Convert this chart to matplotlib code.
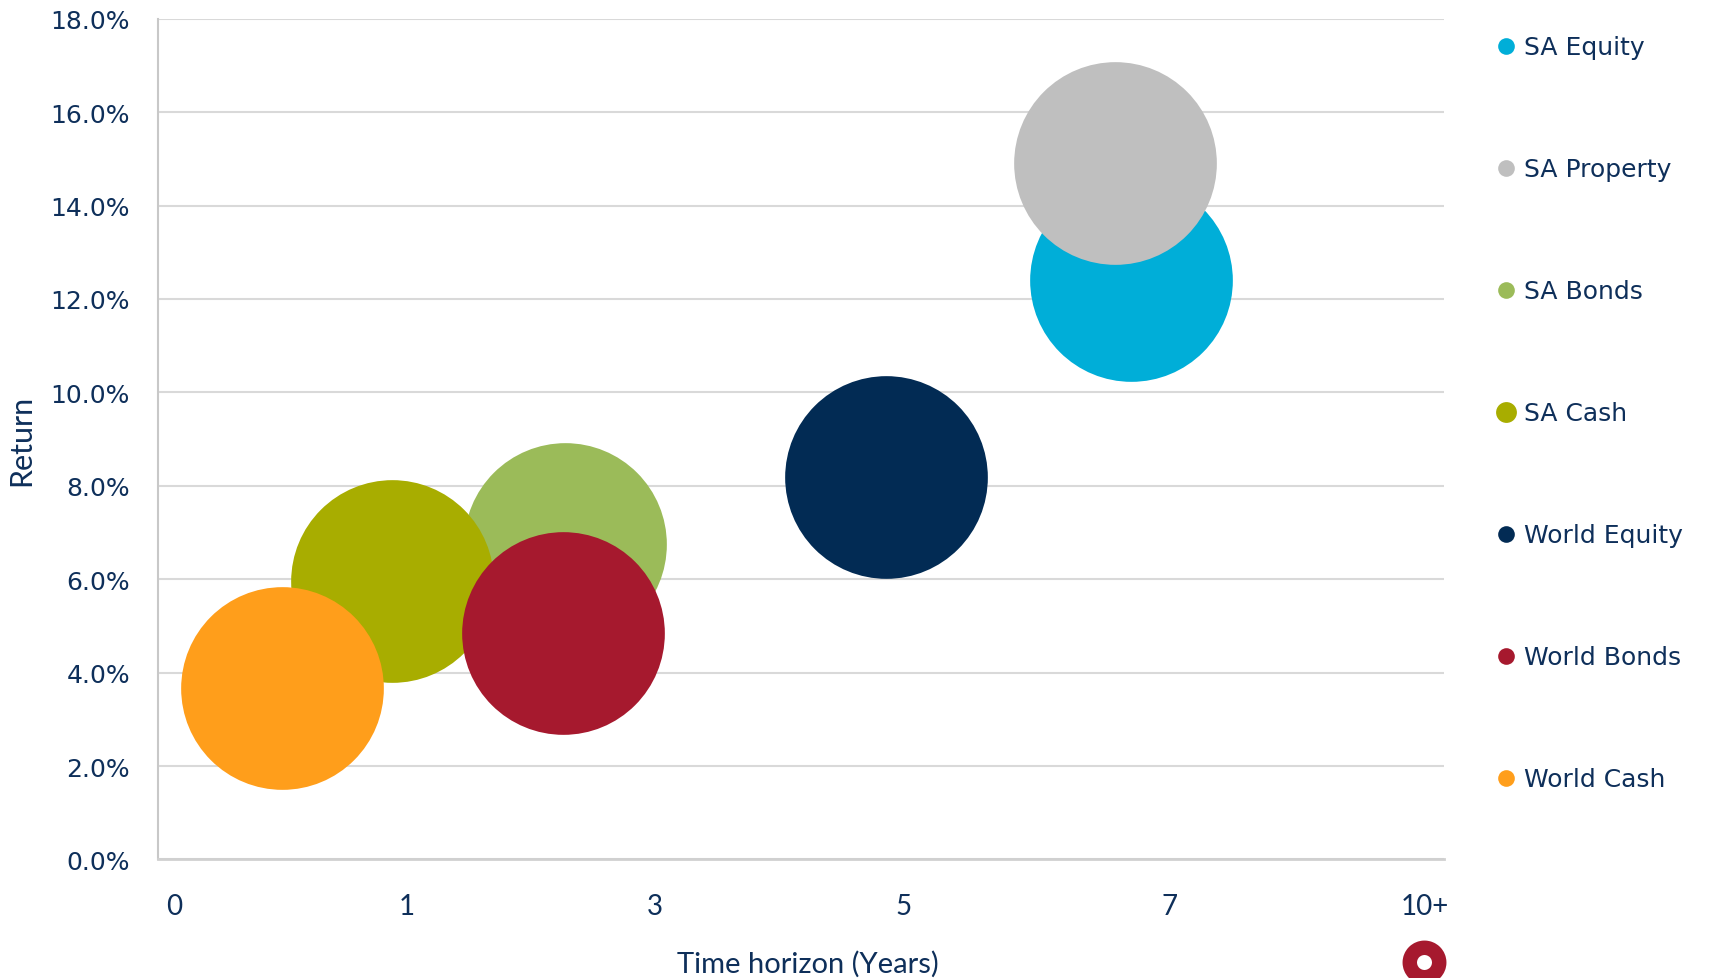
import matplotlib
matplotlib.use("Agg")
import matplotlib.pyplot as plt
from matplotlib.lines import Line2D
from matplotlib.ticker import PercentFormatter

# 资产类别
assets = ["SA Equity", "SA Property", "SA Bonds", "SA Cash",
          "World Equity", "World Bonds", "World Cash"]
colors = ["#00AED8", "#BFBFBF", "#9BBB59", "#A8AD00",
          "#022B54", "#A6192E", "#FF9E1B"]
# 横轴位置（时间跨度）和回报率
horizon = [9.08, 8.93, 3.79, 2.18, 6.79, 3.78, 1.15]
returns = [0.124, 0.149, 0.0675, 0.0596, 0.0818, 0.0484, 0.0367]

tick_pos = [0.15, 2.32, 4.63, 6.95, 9.44, 11.82]
tick_labels = ["0", "1", "3", "5", "7", "10+"]

navy = "#0E2F5A"
bubble_size = 21300

fig = plt.figure(figsize=(17.12, 9.79), dpi=100)
ax = fig.add_axes([0.0925, 0.1211, 0.7512, 0.8588])

for x, y, c in zip(horizon, returns, colors):
    ax.scatter(x, y, s=bubble_size, color=c, linewidths=0, zorder=3)

ax.set_xlim(0, 12)
ax.set_ylim(0, 0.18)
ax.set_yticks([i * 0.02 for i in range(10)])
ax.yaxis.set_major_formatter(PercentFormatter(1.0, decimals=1))
ax.set_xticks(tick_pos)
ax.set_xticklabels(tick_labels, fontfamily="Lato", fontsize=20, color=navy)
ax.tick_params(axis="x", length=0, pad=24)
ax.tick_params(axis="y", length=0, pad=20.5, labelsize=18, labelcolor=navy)
for lab in ax.get_yticklabels():
    lab.set_fontfamily("DejaVu Sans")

ax.grid(axis="y", color="#D9D9D9", linewidth=1.5, zorder=0)
ax.set_axisbelow(True)
for side in ["top", "right"]:
    ax.spines[side].set_visible(False)
ax.spines["left"].set_color("#C8C8C8")
ax.spines["left"].set_linewidth(1.5)
ax.spines["bottom"].set_color("#D0D0D0")
ax.spines["bottom"].set_linewidth(2)

ax.set_ylabel("Return", fontfamily="Lato", fontsize=22, color=navy, labelpad=11)
ax.set_xlabel("Time horizon (Years)", fontfamily="Lato", fontsize=21, color=navy, labelpad=23)
ax.xaxis.set_label_coords(0.5047, -0.1, transform=ax.transAxes)
ax.xaxis.label.set_verticalalignment("center")
ax.xaxis.set_label_coords(0.5047, -(964 - 860.4) / 840.7)

# 图例
handles = [Line2D([], [], linestyle="none", marker="o", markersize=(15 if a == "SA Cash" else 12),
                  markerfacecolor=c, markeredgewidth=0) for a, c in zip(assets, colors)]
leg = fig.legend(handles, assets, loc="upper left", bbox_to_anchor=(0.868, 0.973),
                 frameon=False, fontsize=18, labelspacing=3.92, handlelength=0.8,
                 handletextpad=0.3, borderaxespad=0)
for t in leg.get_texts():
    t.set_color(navy)

# 右下角标志
fig.add_artist(Line2D([0.8318], [0.0163], transform=fig.transFigure, marker="o",
                      markersize=21.2, markerfacecolor="white", markeredgecolor="#A6192E",
                      markeredgewidth=10.4, linestyle="none"))

fig.savefig("out.png", dpi=100)
